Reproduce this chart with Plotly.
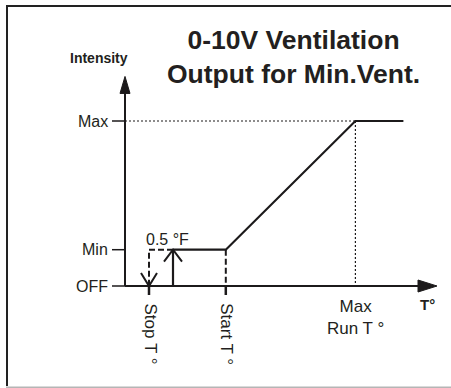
import plotly.graph_objects as go

W, H = 451, 388

# Temperatures along the x axis (°F, measured from the axis origin)
stop_temp = 0.5
differential = 0.5          # restart 0.5 °F above the stop temperature
start_temp = 2.1
max_run_temp = 4.8
plateau_end = 5.8
axis_end_temp = 6.5

# Output levels on the intensity axis (volts, 0-10 V)
level_names = ["OFF", "Min", "Max"]
level_volts = [0.0, 2.2, 10.0]
axis_top_volts = 12.7

temp_labels = ["Stop T °", "Start T °"]
max_run_label = "Max<br>Run T °"
differential_label = "0.5 °F"

off_v, min_v, max_v = level_volts
on_temp = stop_temp + differential
curve_temps = [on_temp, start_temp, max_run_temp, plateau_end]
curve_volts = [min_v, min_v, max_v, max_v]

# axis ranges chosen so the drawing fills the frame
X_RANGE = [-125 / 48, (W - 125) / 48]
Y_RANGE = [-(H - 286) / 16.5, 286 / 16.5]
SX = W / (X_RANGE[1] - X_RANGE[0])   # pixels per °F
SY = H / (Y_RANGE[1] - Y_RANGE[0])   # pixels per volt

INK = "#1c1a1b"
TEXT = "#231f20"
FONT = "Liberation Sans, Arial, sans-serif"


def head(tx, ty, ux, uy, length, half, closed):
    """Arrow head with its tip at (tx, ty); direction (ux, uy) in screen px, up positive."""
    bx, by = -ux * length, -uy * length
    px, py = -uy * half, ux * half
    pts = [(bx + px, by + py), (0, 0), (bx - px, by - py)]
    if closed:
        pts.append(pts[0])
    return [tx + p[0] / SX for p in pts], [ty + p[1] / SY for p in pts]


def seg(x, y, width=2, dash="solid", color=INK, fill=None):
    return go.Scatter(x=x, y=y, mode="lines", hoverinfo="skip",
                      line=dict(color=color, width=width, dash=dash),
                      fill=fill, fillcolor=color if fill else None)


fig = go.Figure()

# intensity axis and temperature axis with solid arrow heads
fig.add_trace(seg([0, 0], [off_v, axis_top_volts - 12 / SY], 2))
fig.add_trace(seg(*head(0, axis_top_volts, 0, 1, 17, 5, True), 1, fill="toself"))
fig.add_trace(seg([0, axis_end_temp - 15 / SX], [off_v, off_v], 2))
fig.add_trace(seg(*head(axis_end_temp, off_v, 1, 0, 19, 6, True), 1, fill="toself"))

# level ticks on the intensity axis
tx, ty = [], []
for v in level_volts:
    tx += [-13 / SX, 0, None]
    ty += [v, v, None]
fig.add_trace(seg(tx, ty, 1.5))

# ticks below the stop / start temperatures
bx, by = [], []
for t in (stop_temp, start_temp):
    bx += [t, t, None]
    by += [off_v, off_v - 9 / SY, None]
fig.add_trace(seg(bx, by, 2.5))

# dotted guides to the maximum
fig.add_trace(seg([0, max_run_temp], [max_v, max_v], 1.2, "2px,2px"))
fig.add_trace(seg([max_run_temp, max_run_temp], [max_v, off_v], 1.2, "2px,2px"))

# dashed stop drop and start guide
fig.add_trace(seg([on_temp, stop_temp, stop_temp], [min_v, min_v, off_v + 1 / SY], 2, "6px,3px"))
fig.add_trace(seg([start_temp, start_temp], [min_v, off_v], 2, "6px,3px"))
fig.add_trace(seg(*head(stop_temp, off_v, 0, -1, 13, 8, False), 2))

# restart 0.5 °F above the stop temperature
fig.add_trace(seg([on_temp, on_temp], [off_v, min_v], 2.2))
fig.add_trace(seg(*head(on_temp, min_v, 0, 1, 12, 9, False), 2))

# output curve: Min until Start T°, ramp to Max at Max Run T°
fig.add_trace(seg(curve_temps, curve_volts, 2.2))

ann = []
for name, v in zip(level_names, level_volts):
    ann.append(dict(x=0, y=v, text=name, xanchor="right", yanchor="middle",
                    xshift=-15, showarrow=False,
                    font=dict(size=16, color=TEXT, family=FONT)))
for t, lab in zip((stop_temp, start_temp), temp_labels):
    ann.append(dict(x=t, y=off_v, text=lab, textangle=90, xanchor="center",
                    yanchor="top", yshift=-15, xshift=1, showarrow=False,
                    font=dict(size=17, color=TEXT, family=FONT)))
ann.append(dict(x=max_run_temp, y=off_v, text=max_run_label, xanchor="center",
                yanchor="top", yshift=-9, showarrow=False,
                font=dict(size=17, color=TEXT, family=FONT)))
ann.append(dict(x=axis_end_temp, y=off_v, text="<b>T°</b>", xanchor="center",
                yanchor="top", yshift=-8, xshift=-10, showarrow=False,
                font=dict(size=15, color=TEXT, family=FONT)))
ann.append(dict(x=stop_temp, y=min_v, text=differential_label, xanchor="left",
                yanchor="bottom", xshift=-5, yshift=0, showarrow=False,
                font=dict(size=16, color=TEXT, family=FONT)))
ann.append(dict(x=0, y=axis_top_volts, text="<b>Intensity</b>", xanchor="center",
                yanchor="bottom", xshift=-26, yshift=8, showarrow=False,
                font=dict(size=14, color=TEXT, family=FONT)))
ann.append(dict(x=293 / W, y=1 - 57 / H, xref="paper", yref="paper",
                text="<b>0-10V Ventilation<br>Output for Min.Vent.</b>",
                xanchor="center", yanchor="middle", showarrow=False,
                font=dict(size=26.5, color=TEXT, family=FONT)))

# frame: dark left and top rules, light rule at the bottom
shapes = [
    dict(type="line", xref="paper", yref="paper", x0=7 / W, x1=7 / W,
         y0=1 - 386 / H, y1=1 - 5 / H, line=dict(color="#222", width=2)),
    dict(type="line", xref="paper", yref="paper", x0=6 / W, x1=1.01,
         y0=1 - 6 / H, y1=1 - 6 / H, line=dict(color="#222", width=2)),
    dict(type="line", xref="paper", yref="paper", x0=6 / W, x1=1.01,
         y0=1 - 387.3 / H, y1=1 - 387.3 / H, line=dict(color="#b5b5b5", width=1.5)),
]

fig.update_layout(
    width=W, height=H, autosize=False,
    margin=dict(l=0, r=0, t=0, b=0),
    paper_bgcolor="white", plot_bgcolor="white",
    showlegend=False,
    xaxis=dict(range=X_RANGE, visible=False, fixedrange=True),
    yaxis=dict(range=Y_RANGE, visible=False, fixedrange=True),
    annotations=ann, shapes=shapes,
)

fig.write_html("out.html")
